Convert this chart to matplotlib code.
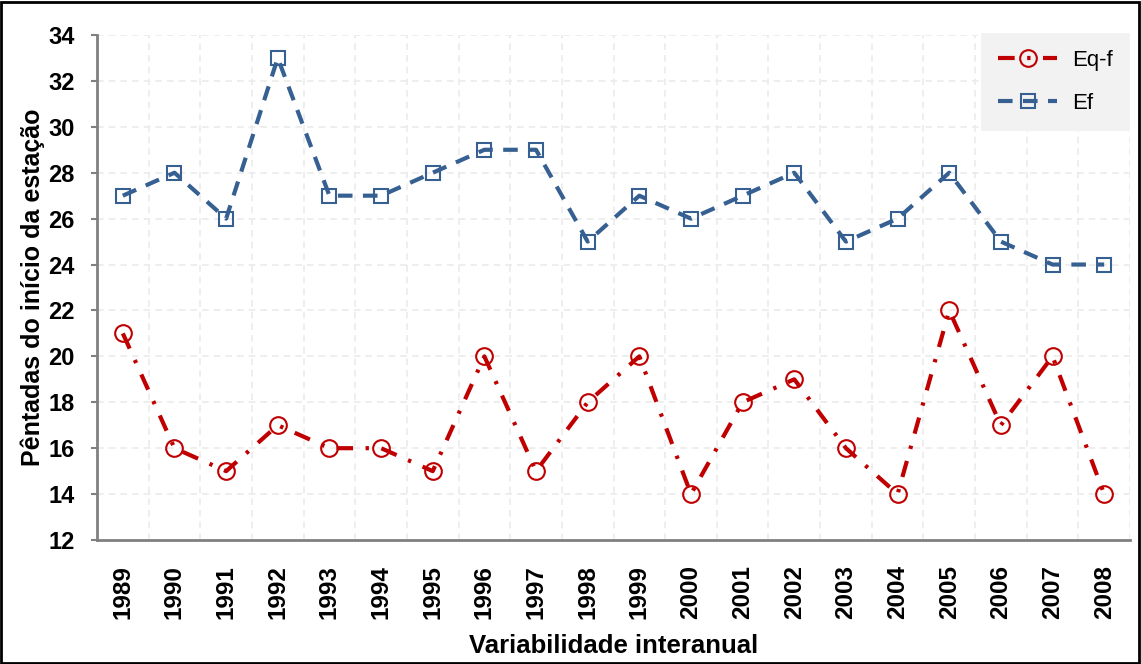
import matplotlib
matplotlib.use("Agg")
import matplotlib.pyplot as plt
from matplotlib.patches import Rectangle

years = [1989, 1990, 1991, 1992, 1993, 1994, 1995, 1996, 1997, 1998,
         1999, 2000, 2001, 2002, 2003, 2004, 2005, 2006, 2007, 2008]
eq_f = [21, 16, 15, 17, 16, 16, 15, 20, 15, 18, 20, 14, 18, 19, 16, 14, 22, 17, 20, 14]
ef = [27, 28, 26, 33, 27, 27, 28, 29, 29, 25, 27, 26, 27, 28, 25, 26, 28, 25, 24, 24]

red = "#c00000"
blue = "#376092"

plt.rcParams['font.family'] = ['Liberation Sans', 'DejaVu Sans']

fig = plt.figure(figsize=(11.41, 6.64), dpi=100)
ax = fig.add_axes([97 / 1141, 124 / 664, (1130 - 97) / 1141, (540 - 35) / 664])

x = list(range(len(years)))
ax.plot(x, eq_f, color=red, lw=3, linestyle=(0, (4, 3, 0.8, 3)),
        marker='o', ms=12, mfc='none', mec=red, mew=1.5, label='Eq-f')
ax.plot(x, ef, color=blue, lw=3, linestyle=(0, (3.5, 2.5)),
        marker='s', ms=10, mfc='none', mec=blue, mew=1.5, label='Ef')

ax.set_xlim(-0.5, len(years) - 0.5)
ax.set_ylim(12, 34)
ax.set_yticks(range(12, 35, 2))
ax.set_xticks(x)
ax.set_xticklabels([str(y) for y in years], rotation=90, fontsize=17.5, fontweight='bold')
for lab in ax.get_yticklabels():
    lab.set_fontsize(17)
    lab.set_fontweight('bold')

# grid: horizontal at y ticks, vertical between categories
for yv in range(14, 35, 2):
    ax.axhline(yv, color='#ebebeb', lw=1.2, ls=(0, (4, 3)), zorder=0)
for xv in range(len(years)):
    ax.axvline(xv + 0.5, color='#ebebeb', lw=1.2, ls=(0, (4, 3)), zorder=0)

ax.tick_params(axis='x', length=0, pad=18)
ax.tick_params(axis='y', length=4, color='#808080', width=1.5, pad=12)
for s in ['top', 'right']:
    ax.spines[s].set_visible(False)
for s in ['left', 'bottom']:
    ax.spines[s].set_color('#808080')
    ax.spines[s].set_linewidth(2)

ax.set_xlabel('Variabilidade interanual', fontsize=18.5, fontweight='bold', labelpad=11)
ax.set_ylabel('Pêntadas do início da estação', fontsize=18, fontweight='bold', labelpad=2)

leg = ax.legend(loc='upper right', bbox_to_anchor=(1.0, 1.004), fontsize=16,
                frameon=True, fancybox=False, handlelength=2.65, labelspacing=1.0,
                borderpad=0.75, handletextpad=0.7, borderaxespad=0)
leg.get_frame().set_facecolor('#f2f2f2')
leg.get_frame().set_edgecolor('none')
leg.get_frame().set_alpha(1)

fig.patches.append(Rectangle((0.001, 0.002), 0.997, 0.995, transform=fig.transFigure,
                             fill=False, edgecolor='black', lw=2))

fig.savefig('out.png', dpi=100)
